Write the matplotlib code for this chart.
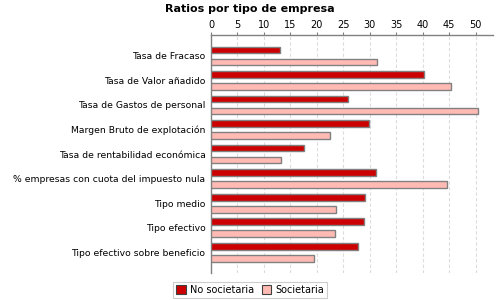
import numpy as np
import matplotlib
matplotlib.use('Agg')
import matplotlib.pyplot as plt
from matplotlib.patches import Patch

categories = ['Tasa de Fracaso', 'Tasa de Valor añadido', 'Tasa de Gastos de personal',
              'Margen Bruto de explotación', 'Tasa de rentabilidad económica',
              '% empresas con cuota del impuesto nula', 'Tipo medio', 'Tipo efectivo',
              'Tipo efectivo sobre beneficio']
no_societaria = [13.1, 40.3, 25.8, 29.9, 17.6, 31.2, 29.2, 29.0, 27.7]
societaria = [31.4, 45.4, 50.5, 22.4, 13.3, 44.7, 23.7, 23.5, 19.5]
series_names = ['No societaria', 'Societaria']

dark_red = '#cc0000'
pink = '#ffbbb3'
edge = '#808080'

fig = plt.figure(figsize=(5, 3), dpi=100)
ax = fig.add_axes([0.422, 0.09, 0.564, 0.793])

y = np.arange(len(categories))
off = 0.245
h = 0.28
ax.barh(y - off, no_societaria, height=h, color=dark_red, edgecolor=edge, linewidth=1, zorder=3)
ax.barh(y + off, societaria, height=h, color=pink, edgecolor=edge, linewidth=1, zorder=3)

ax.set_xlim(0, 53.3)
ax.set_ylim(len(categories) - 1 + 0.85, -0.85)
ax.set_xticks(np.arange(0, 55, 5))
ax.xaxis.tick_top()
ax.tick_params(axis='x', length=2, pad=2, labelsize=7, color=edge)
ax.tick_params(axis='y', length=0, pad=4, labelsize=6.7)
ax.set_yticks(y)
ax.set_yticklabels(categories)
ax.grid(axis='x', color='#dcdcdc', linestyle=(0, (3, 2)), linewidth=0.8, zorder=0)

for s in ['right', 'bottom']:
    ax.spines[s].set_visible(False)
for s in ['top', 'left']:
    ax.spines[s].set_color(edge)
    ax.spines[s].set_linewidth(1)

fig.text(0.5, 0.97, 'Ratios por tipo de empresa', ha='center', va='center',
         fontsize=8, fontweight='bold')

handles = [Patch(facecolor=dark_red, edgecolor='#404040', linewidth=0.8),
           Patch(facecolor=pink, edgecolor='#404040', linewidth=0.8)]
leg = fig.legend(handles, series_names, loc='center', bbox_to_anchor=(0.5, 0.033),
                 ncol=2, fontsize=7, frameon=True, fancybox=False,
                 handlelength=1.0, handleheight=1.0, handletextpad=0.4,
                 columnspacing=0.8, borderpad=0.3)
leg.get_frame().set_edgecolor('#c0c0c0')
leg.get_frame().set_linewidth(0.8)

fig.savefig('out.png', dpi=100)
